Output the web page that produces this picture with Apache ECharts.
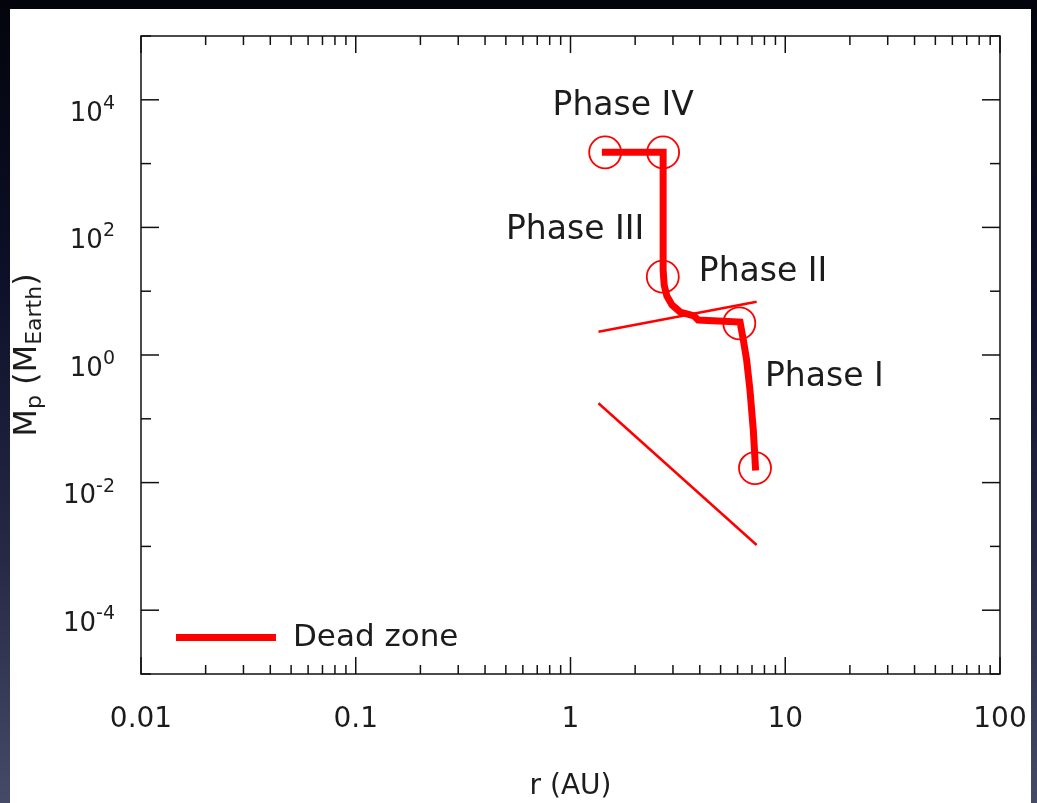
<!DOCTYPE html>
<html><head><meta charset="utf-8">
<script src="https://cdn.jsdelivr.net/npm/echarts@6/dist/echarts.min.js"></script>
<style>
html,body{margin:0;padding:0;width:1037px;height:803px;overflow:hidden;}
body{background:linear-gradient(to bottom,#03040c 0%,#0d1028 35%,#262a46 70%,#454a66 100%);position:relative;}
#panel{position:absolute;left:10px;top:9px;width:1021px;height:794px;background:#ffffff;}
#chart{position:absolute;left:0;top:0;width:1037px;height:803px;}
</style></head><body><div id="panel"></div><div id="chart"></div>
<script>
const FONT = 'DejaVu Sans';
const TXT = '#1c1c1c';
// evolutionary track (r in AU, Mp in Earth masses)
const trackR = [7.28, 7.10, 6.85, 6.61, 6.38, 6.16, 3.93, 3.76, 3.24, 2.97, 2.81, 2.73, 2.70, 2.70, 1.40];
const trackM = [0.0155, 0.0668, 0.283, 0.835, 1.72, 3.29, 3.54, 4.09, 4.72, 6.08, 8.41, 12.5, 21.5, 1500, 1500];
// phase boundary markers
const circleR = [7.23, 6.11, 2.69, 2.70, 1.45];
const circleM = [0.0169, 3.14, 16.9, 1500, 1500];
// thin reference lines
const lineAR = [1.35, 7.36];
const lineAM = [2.32, 6.84];
const lineBR = [1.35, 7.36];
const lineBM = [0.175, 0.00105];
// phase annotations
const phaseNames = ['Phase I', 'Phase II', 'Phase III', 'Phase IV'];
const phaseR = [15.2, 7.88, 1.05, 1.76];
const phaseM = [0.452, 20.0, 91, 8000];
// axes
const xMajorTicks = [0.01, 0.1, 1, 10, 100];
const xTickLabels = ['0.01', '0.1', '1', '10', '100'];
const xMinorFactors = [2, 3, 4, 5, 6, 7, 8, 9];
const yTickExponents = [-5, -4, -3, -2, -1, 0, 1, 2, 3, 4, 5];
const yLabelExponents = [-4, -2, 0, 2, 4];

const zip = (a, b) => a.map((v, i) => [v, b[i]]);

const xTickData = [];
xMajorTicks.forEach((v, i) => {
  xTickData.push([v, 1, 1]);
  if (i < xMajorTicks.length - 1) xMinorFactors.forEach(f => xTickData.push([v * f, 1, 0]));
});
const yTickData = yTickExponents.map(e => [1, Math.pow(10, e), e % 2 === 0 ? 1 : 0]);
const yLabelData = yLabelExponents.map(e => [1, Math.pow(10, e), e]);

function xTickRender(params, api) {
  const cs = params.coordSys;
  const x = api.coord([api.value(0), 1])[0];
  const len = api.value(2) ? 17 : 9;
  const bot = cs.y + cs.height, top = cs.y;
  const st = {stroke: '#111', lineWidth: 1.5};
  return {type: 'group', children: [
    {type: 'line', shape: {x1: x, y1: bot, x2: x, y2: bot - len}, style: st},
    {type: 'line', shape: {x1: x, y1: top, x2: x, y2: top + len}, style: st}
  ]};
}
function yTickRender(params, api) {
  const cs = params.coordSys;
  const y = api.coord([1, api.value(1)])[1];
  const len = api.value(2) ? 18 : 10;
  const l = cs.x, r = cs.x + cs.width;
  const st = {stroke: '#111', lineWidth: 1.5};
  return {type: 'group', children: [
    {type: 'line', shape: {x1: l, y1: y, x2: l + len, y2: y}, style: st},
    {type: 'line', shape: {x1: r, y1: y, x2: r - len, y2: y}, style: st}
  ]};
}
function yLabelRender(params, api) {
  const cs = params.coordSys;
  const y = api.coord([1, api.value(1)])[1];
  const e = api.value(2);
  return {type: 'text', x: cs.x - 26, y: y + 4, style: {
    text: '{b|10}{s|' + e + '}', align: 'right', verticalAlign: 'middle',
    rich: {
      b: {fontSize: 26, fontFamily: FONT, fill: TXT, color: TXT, padding: [20, 0, 0, 0]},
      s: {fontSize: 19, fontFamily: FONT, fill: TXT, color: TXT}
    }
  }};
}

const chart = echarts.init(document.getElementById('chart'), null, {renderer: 'canvas'});
chart.setOption({
  animation: false,
  backgroundColor: 'transparent',
  textStyle: {fontFamily: FONT, color: TXT},
  grid: {left: 141, right: 37, top: 36, bottom: 129, show: true, borderColor: '#111', borderWidth: 1.5,
         backgroundColor: 'transparent', containLabel: false, outerBoundsMode: 'none'},
  legend: {
    data: ['Dead zone'], left: 176, top: 622, padding: 0, icon: 'rect', itemWidth: 100, itemHeight: 7,
    textStyle: {fontFamily: FONT, fontSize: 31, color: TXT, padding: [0, 0, 0, 12]},
    selectedMode: false
  },
  xAxis: {
    type: 'log', min: 0.01, max: 100, logBase: 10, splitNumber: 4,
    axisLine: {show: false}, axisTick: {show: false}, splitLine: {show: false},
    axisLabel: {
      margin: 32, fontSize: 28, fontFamily: FONT, color: TXT, hideOverlap: false,
      formatter: v => xTickLabels[Math.round(Math.log10(v)) + 2] || ''
    },
    name: 'r (AU)', nameLocation: 'middle', nameGap: 99, nameMoveOverlap: false,
    nameTextStyle: {fontSize: 28, fontFamily: FONT, color: TXT}
  },
  yAxis: {
    type: 'log', min: 1e-5, max: 1e5, logBase: 10, splitNumber: 10,
    axisLine: {show: false}, axisTick: {show: false}, splitLine: {show: false},
    axisLabel: {show: false},
    name: '{m|M}{sub|p}{m| (M}{sub|Earth}{m|)}', nameLocation: 'middle', nameGap: 95, nameRotate: 90,
    nameMoveOverlap: false,
    nameTextStyle: {
      rich: {
        m: {fontSize: 32, fontFamily: FONT, color: TXT},
        sub: {fontSize: 22, fontFamily: FONT, color: TXT, padding: [15, 0, 0, 0]}
      }
    }
  },
  series: [
    {type: 'custom', renderItem: xTickRender, data: xTickData, silent: true, z: 5},
    {type: 'custom', renderItem: yTickRender, data: yTickData, silent: true, z: 5},
    {type: 'custom', renderItem: yLabelRender, data: yLabelData, silent: true, z: 5, clip: false},
    {name: 'lineA', type: 'line', data: zip(lineAR, lineAM), symbol: 'none', lineStyle: {color: '#ff0000', width: 2.5}, silent: true},
    {name: 'lineB', type: 'line', data: zip(lineBR, lineBM), symbol: 'none', lineStyle: {color: '#ff0000', width: 2.5}, silent: true},
    {name: 'Dead zone', type: 'line', data: zip(trackR, trackM), symbol: 'none', itemStyle: {color: '#ff0000'},
     lineStyle: {color: '#ff0000', width: 7, join: 'miter', cap: 'butt'}, silent: true, z: 3},
    {name: 'circles', type: 'scatter', data: zip(circleR, circleM), symbol: 'circle', symbolSize: 32,
     itemStyle: {color: 'rgba(0,0,0,0)', borderColor: '#ff0000', borderWidth: 1.8, opacity: 1}, silent: true, z: 4},
    {name: 'phases', type: 'scatter', symbolSize: 0, silent: true, itemStyle: {opacity: 1},
     data: phaseNames.map((n, i) => ({name: n, value: [phaseR[i], phaseM[i]]})),
     label: {show: true, position: 'inside', formatter: '{b}', fontSize: 33, fontFamily: FONT, color: TXT}}
  ]
});
</script></body></html>
